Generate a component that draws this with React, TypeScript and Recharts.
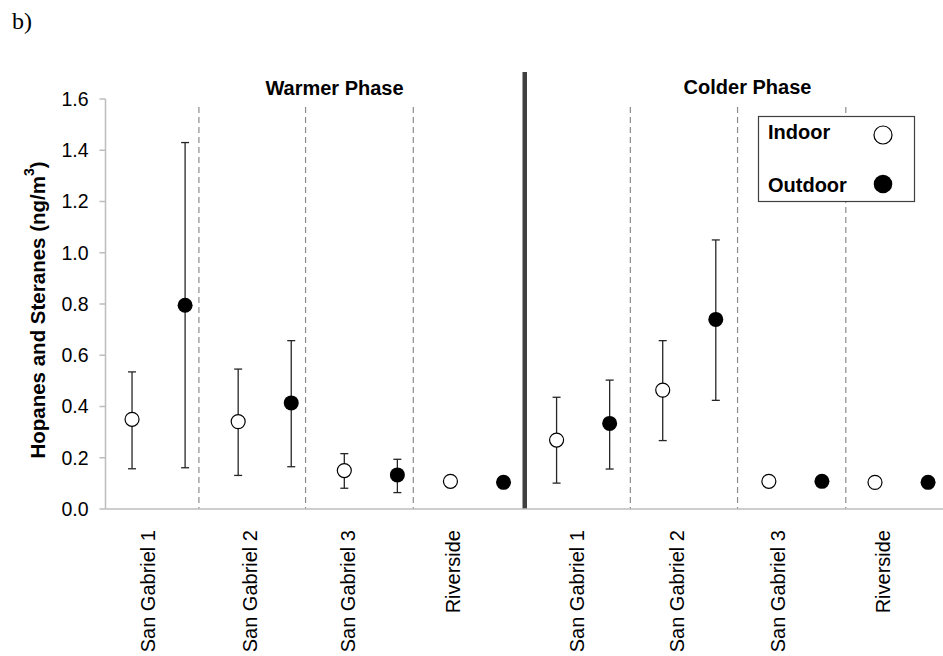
import { ScatterChart, Scatter, ErrorBar, XAxis, YAxis, ReferenceLine } from 'recharts'

// Sites, repeated for the two sampling phases
const SITES = [
  'San Gabriel 1', 'San Gabriel 2', 'San Gabriel 3', 'Riverside',
  'San Gabriel 1', 'San Gabriel 2', 'San Gabriel 3', 'Riverside',
]
const PHASES = ['Warmer Phase', 'Colder Phase']
const Y_TICKS = [0, 0.2, 0.4, 0.6, 0.8, 1.0, 1.2, 1.4, 1.6]

// ng/m3 (null = no error bar)
const INDOOR_MEAN = [0.35, 0.341, 0.15, 0.108, 0.269, 0.464, 0.108, 0.104]
const INDOOR_LOW = [0.157, 0.131, 0.081, null, 0.101, 0.267, null, null]
const INDOOR_HIGH = [0.535, 0.546, 0.216, null, 0.436, 0.657, null, null]
const OUTDOOR_MEAN = [0.795, 0.414, 0.133, 0.104, 0.334, 0.74, 0.108, 0.104]
const OUTDOOR_LOW = [0.161, 0.165, 0.064, null, 0.156, 0.424, null, null]
const OUTDOOR_HIGH = [1.43, 0.657, 0.194, null, 0.503, 1.05, null, null]

// x axis runs in "slots": two per site (indoor, outdoor)
const LABEL_X = [0.8, 2.72, 4.57, 6.55, 8.88, 10.77, 12.67, 14.65]
const DIVIDER_X = [1.76, 3.77, 5.8, 9.89, 11.91, 13.95]
const PHASE_SPLIT_X = 7.9

const FONT = '"Liberation Sans", Arial, sans-serif'

function buildSeries(mean: number[], low: (number | null)[], high: (number | null)[], offset: number) {
  return mean.map((m, i) => ({
    x: i * 2 + offset,
    y: m,
    err: low[i] == null || high[i] == null ? null : [m - (low[i] as number), (high[i] as number) - m],
  }))
}

const indoorData = buildSeries(INDOOR_MEAN, INDOOR_LOW, INDOOR_HIGH, 0.5)
const outdoorData = buildSeries(OUTDOOR_MEAN, OUTDOOR_LOW, OUTDOOR_HIGH, 1.5)

function SiteTick({ x, y, index }: any) {
  const ty = y + 13
  return (
    <text
      x={x}
      y={ty}
      transform={`rotate(-90 ${x} ${ty})`}
      textAnchor="end"
      dominantBaseline="central"
      fontSize={20}
      fontFamily={FONT}
      fill="#000"
    >
      {SITES[index]}
    </text>
  )
}

function YLabel({ viewBox }: any) {
  const cx = viewBox.x + 37
  const cy = viewBox.y + viewBox.height / 2 + 6
  return (
    <text
      x={cx}
      y={cy}
      transform={`rotate(-90 ${cx} ${cy})`}
      textAnchor="middle"
      dominantBaseline="central"
      fontSize={20.5}
      fontWeight="bold"
      fontFamily={FONT}
      fill="#000"
    >
      Hopanes and Steranes (ng/m
      <tspan baselineShift="super" fontSize={14}>3</tspan>)
    </text>
  )
}

const indoorDot = (p: any) => (
  <circle cx={p.cx} cy={p.cy} r={7} fill="#fff" stroke="#000" strokeWidth={1.2} />
)
const outdoorDot = (p: any) => <circle cx={p.cx} cy={p.cy} r={7.5} fill="#000" />

export default function App() {
  return (
    <div style={{ position: 'fixed', left: 0, top: 0, width: 943, height: 656, overflow: 'hidden', background: '#fff' }}>
      <ScatterChart width={960} height={656} margin={{ top: 99, right: 5.4, bottom: 0, left: 0 }}>
        <XAxis
          type="number"
          dataKey="x"
          domain={[0, 16]}
          ticks={LABEL_X}
          interval={0}
          tickLine={false}
          axisLine={{ stroke: '#bdbdbd', strokeWidth: 1.5 }}
          height={147}
          tick={<SiteTick />}
          allowDataOverflow
        />
        <YAxis
          type="number"
          dataKey="y"
          domain={[0, 1.6]}
          ticks={Y_TICKS}
          interval={0}
          width={105.5}
          axisLine={{ stroke: '#bdbdbd', strokeWidth: 1.5 }}
          tickLine={{ stroke: '#bdbdbd', strokeWidth: 1.5 }}
          tickSize={6}
          tickMargin={11}
          tick={{ fontSize: 19.5, fontFamily: FONT, fill: '#000' }}
          tickFormatter={(v: number) => v.toFixed(1)}
          label={<YLabel />}
        />
        {DIVIDER_X.map((dx) => (
          <ReferenceLine
            key={dx}
            segment={[{ x: dx, y: 1.569 }, { x: dx, y: 0 }]}
            stroke="#8c8c8c"
            strokeWidth={1.2}
            strokeDasharray="6 4"
          />
        ))}
        <ReferenceLine
          segment={[{ x: PHASE_SPLIT_X, y: 1.705 }, { x: PHASE_SPLIT_X, y: 0 }]}
          stroke="#404040"
          strokeWidth={4.5}
          ifOverflow="visible"
        />
        <Scatter name="Indoor" data={indoorData} shape={indoorDot} isAnimationActive={false}>
          <ErrorBar dataKey="err" direction="y" width={4} stroke="#262626" strokeWidth={1.3} />
        </Scatter>
        <Scatter name="Outdoor" data={outdoorData} shape={outdoorDot} isAnimationActive={false}>
          <ErrorBar dataKey="err" direction="y" width={4} stroke="#262626" strokeWidth={1.3} />
        </Scatter>
      </ScatterChart>

      <svg width={943} height={656} style={{ position: 'absolute', left: 0, top: 0, pointerEvents: 'none' }}>
        <text x={12} y={29} fontSize={24} fontFamily='"Liberation Serif", "Times New Roman", serif' fill="#000">
          b)
        </text>
        <text x={334.5} y={95} textAnchor="middle" fontSize={20} fontWeight="bold" fontFamily={FONT} fill="#000">
          {PHASES[0]}
        </text>
        <text x={747.5} y={94} textAnchor="middle" fontSize={20} fontWeight="bold" fontFamily={FONT} fill="#000">
          {PHASES[1]}
        </text>
        <rect x={758.5} y={116.5} width={156} height={85} fill="#fff" stroke="#404040" strokeWidth={1.2} />
        <text x={768} y={139} fontSize={20} fontWeight="bold" fontFamily={FONT} fill="#000">
          Indoor
        </text>
        <circle cx={883} cy={135} r={9} fill="#fff" stroke="#000" strokeWidth={1.2} />
        <text x={768} y={191.5} fontSize={20} fontWeight="bold" fontFamily={FONT} fill="#000">
          Outdoor
        </text>
        <circle cx={883} cy={184} r={9.3} fill="#000" />
      </svg>
    </div>
  )
}
